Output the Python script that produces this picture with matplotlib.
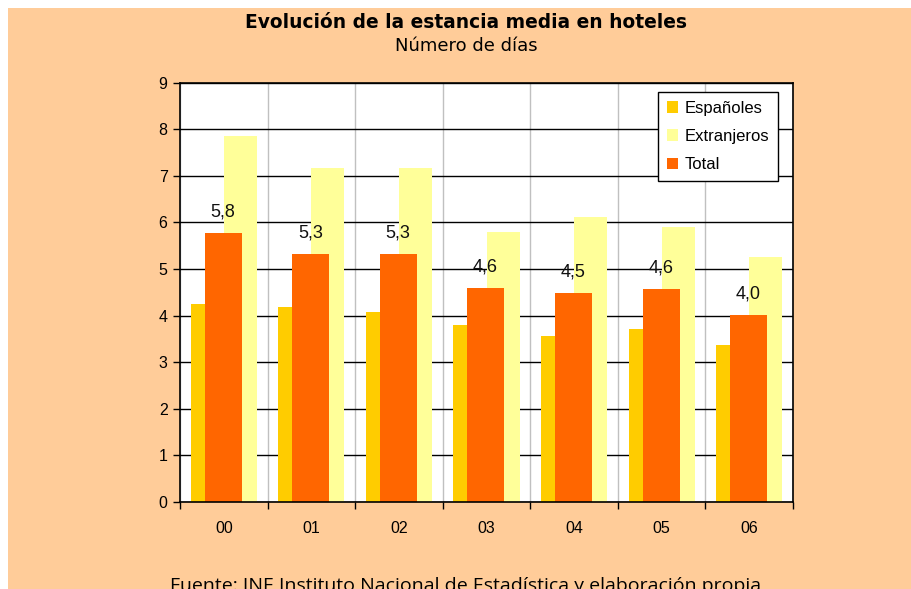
"""
Estancia media en hoteles: barras superpuestas Españoles / Extranjeros / Total.
"""
import matplotlib
matplotlib.use("Agg")
import matplotlib.pyplot as plt
from matplotlib.patches import Rectangle
import numpy as np

# ── Datos ─────────────────────────────────────────────────────────────────────
years = ["00", "01", "02", "03", "04", "05", "06"]
espanoles = [4.25, 4.18, 4.07, 3.79, 3.56, 3.71, 3.37]
extranjeros = [7.86, 7.17, 7.17, 5.79, 6.11, 5.90, 5.25]
total = [5.77, 5.33, 5.33, 4.59, 4.48, 4.57, 4.01]
total_labels = ["5,8", "5,3", "5,3", "4,6", "4,5", "4,6", "4,0"]

PEACH = "#FFCC99"
C_ESP = "#FFCC00"
C_EXT = "#FFFF99"
C_TOT = "#FF6600"

plt.rcParams["font.family"] = ["Liberation Sans", "DejaVu Sans"]

W, H = 911, 589
fig = plt.figure(figsize=(W / 100, H / 100), dpi=100, facecolor="white")
fig.patches.append(Rectangle((8 / W, 0), 1 - 8 / W, (H - 8) / H, transform=fig.transFigure,
                             facecolor=PEACH, edgecolor="none", zorder=-10))

ax = fig.add_axes([180 / W, 1 - 502 / H, 613 / W, 419.3 / H])
ax.set_facecolor("white")

x = np.arange(len(years))
bw = 0.377
ax.bar(x - bw / 2, espanoles, width=bw, color=C_ESP, label="Españoles", zorder=2)
ax.bar(x + bw / 2, extranjeros, width=bw, color=C_EXT, label="Extranjeros", zorder=2)
ax.bar(x - 0.006, total, width=0.422, color=C_TOT, label="Total", zorder=3)

for xi, v, lab in zip(x, total, total_labels):
    ax.text(xi - 0.01, v + 0.27, lab, ha="center", va="bottom", fontsize=13, color="#111111", zorder=4)

ax.set_xlim(-0.5, len(years) - 0.5)
ax.set_ylim(0, 9)
ax.set_yticks(range(0, 10))
ax.set_xticks(x)
ax.set_xticklabels(years)
ax.set_xticks(np.arange(-0.5, len(years)), minor=True)
ax.tick_params(axis="x", which="major", length=0, labelsize=11.5, pad=14)
ax.tick_params(axis="x", which="minor", length=5, width=1, direction="out")
ax.tick_params(axis="y", length=5, width=1, direction="out", labelsize=11.5, pad=4)

ax.grid(True, axis="y", color="black", linewidth=1, zorder=1)
ax.grid(True, axis="x", which="minor", color="#C0C0C0", linewidth=1, zorder=1)
ax.set_axisbelow(True)
for sp in ax.spines.values():
    sp.set_color("black")
    sp.set_linewidth(1.2)
    sp.set_zorder(5)

leg = ax.legend(loc="upper right", bbox_to_anchor=(0.9755, 0.977), fontsize=12, fancybox=False,
                edgecolor="black", framealpha=1, handlelength=0.7, handleheight=0.7,
                labelspacing=0.8, borderpad=0.5, handletextpad=0.4, borderaxespad=0)
leg.get_frame().set_linewidth(1)
leg.set_zorder(6)

fig.text(466 / W, 1 - 22 / H, "Evolución de la estancia media en hoteles", ha="center", va="center",
         fontsize=13.4, fontweight="bold", family=["DejaVu Sans"])
fig.text(466 / W, 1 - 46 / H, "Número de días", ha="center", va="center",
         fontsize=13, family=["DejaVu Sans"])
fig.text(466 / W, 1 - 577 / H, "Fuente: INE Instituto Nacional de Estadística y elaboración propia",
         ha="center", va="top", fontsize=14, family=["Open Sans", "DejaVu Sans"])

fig.savefig("out.png", dpi=100, facecolor=fig.get_facecolor())
